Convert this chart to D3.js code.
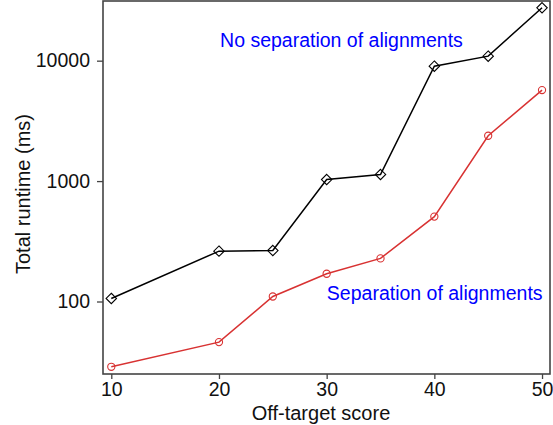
<!DOCTYPE html>
<html>
<head>
<meta charset="utf-8">
<script src="https://cdn.jsdelivr.net/npm/d3@7"></script>
<style>
	body { margin: 0; background: #fff; }
	svg text { font-family: "Liberation Sans", Arial, sans-serif; }
</style>
</head>
<body>
<div id="chart"></div>
<script>
// off-target score vs total runtime (ms)
var scores = [10, 20, 25, 30, 35, 40, 45, 50],
	noSepRuntime = [106, 262, 265, 1030, 1135, 9000, 10900, 27500],
	sepRuntime = [28.7, 46, 110, 170, 228, 507, 2380, 5700],
	xTicks = [10, 20, 30, 40, 50],
	yTicks = [100, 1000, 10000],
	notes = [
		{ text: "No separation of alignments", x: 20.1, y: 13000, anchor: "start" },
		{ text: "Separation of alignments", x: 50.05, y: 103, anchor: "end" }
	];

(function() {
	'use strict';

	var origWidth = 553,
		origHeight = 425,
		margin = { top: 1, right: 3, bottom: 51, left: 103 },
		width = origWidth - margin.left - margin.right,
		height = origHeight - margin.top - margin.bottom,
		fontSize = 19.5,
		titleSize = 20,
		axisColor = "#444",
		redColor = "#d83232";

	var x = d3.scaleLinear().domain([9.23, 50.74]).range([0, width]),
		y = d3.scaleLog().domain([25, 31300]).range([height, 0]);

	var svg = d3.select("#chart").append("svg")
		.attr("width", origWidth)
		.attr("height", origHeight)
		.append("g")
		.attr("transform", "translate(" + margin.left + "," + margin.top + ")");

	function styleAxis(g) {
		g.select(".domain").remove();
		g.selectAll("line").attr("stroke", axisColor).attr("stroke-width", 1.3);
		g.selectAll("text")
			.attr("fill", "#111")
			.style("font-size", fontSize + "px")
			.style("font-family", '"Liberation Sans", Arial, sans-serif');
	}

	svg.append("g")
		.attr("transform", "translate(0," + height + ")")
		.call(d3.axisBottom(x).tickValues(xTicks).tickSize(5).tickPadding(3).tickFormat(d3.format("d")))
		.call(styleAxis);

	svg.append("g")
		.call(d3.axisLeft(y).tickValues(yTicks).tickSize(6).tickPadding(7).tickFormat(d3.format("d")))
		.call(styleAxis);

	// plot frame
	svg.append("rect")
		.attr("x", 0)
		.attr("y", 0)
		.attr("width", width)
		.attr("height", height)
		.attr("fill", "none")
		.attr("stroke", axisColor)
		.attr("stroke-width", 1.6);

	var line = d3.line()
		.x(function(d) { return x(d[0]); })
		.y(function(d) { return y(d[1]); });

	var noSep = scores.map(function(s, i) { return [s, noSepRuntime[i]]; }),
		sep = scores.map(function(s, i) { return [s, sepRuntime[i]]; });

	svg.append("path")
		.datum(noSep)
		.attr("fill", "none")
		.attr("stroke", "#000")
		.attr("stroke-width", 1.5)
		.attr("d", line);

	// open markers, the line shows through them
	svg.append("g")
		.selectAll("path")
		.data(noSep)
		.join("path")
		.attr("transform", function(d) { return "translate(" + x(d[0]) + "," + y(d[1]) + ")"; })
		.attr("d", "M0,-5.2L5.2,0L0,5.2L-5.2,0Z")
		.attr("fill", "none")
		.attr("stroke", "#000")
		.attr("stroke-width", 1.1);

	svg.append("path")
		.datum(sep)
		.attr("fill", "none")
		.attr("stroke", redColor)
		.attr("stroke-width", 1.5)
		.attr("d", line);

	svg.append("g")
		.selectAll("circle")
		.data(sep)
		.join("circle")
		.attr("cx", function(d) { return x(d[0]); })
		.attr("cy", function(d) { return y(d[1]); })
		.attr("r", 3.6)
		.attr("fill", "none")
		.attr("stroke", redColor)
		.attr("stroke-width", 1.1);

	svg.append("g")
		.selectAll("text")
		.data(notes)
		.join("text")
		.attr("x", function(d) { return x(d.x); })
		.attr("y", function(d) { return y(d.y); })
		.attr("text-anchor", function(d) { return d.anchor; })
		.attr("fill", "#0000ff")
		.style("font-size", fontSize + "px")
		.text(function(d) { return d.text; });

	// axis titles
	svg.append("text")
		.attr("x", width / 2 - 5.5)
		.attr("y", height + 46)
		.attr("text-anchor", "middle")
		.attr("fill", "#111")
		.style("font-size", titleSize + "px")
		.text("Off-target score");

	svg.append("text")
		.attr("transform", "translate(" + (29.5 - margin.left) + "," + (194 - margin.top) + ") rotate(-90)")
		.attr("text-anchor", "middle")
		.attr("fill", "#111")
		.style("font-size", titleSize + "px")
		.text("Total runtime (ms)");
})();
</script>
</body>
</html>
